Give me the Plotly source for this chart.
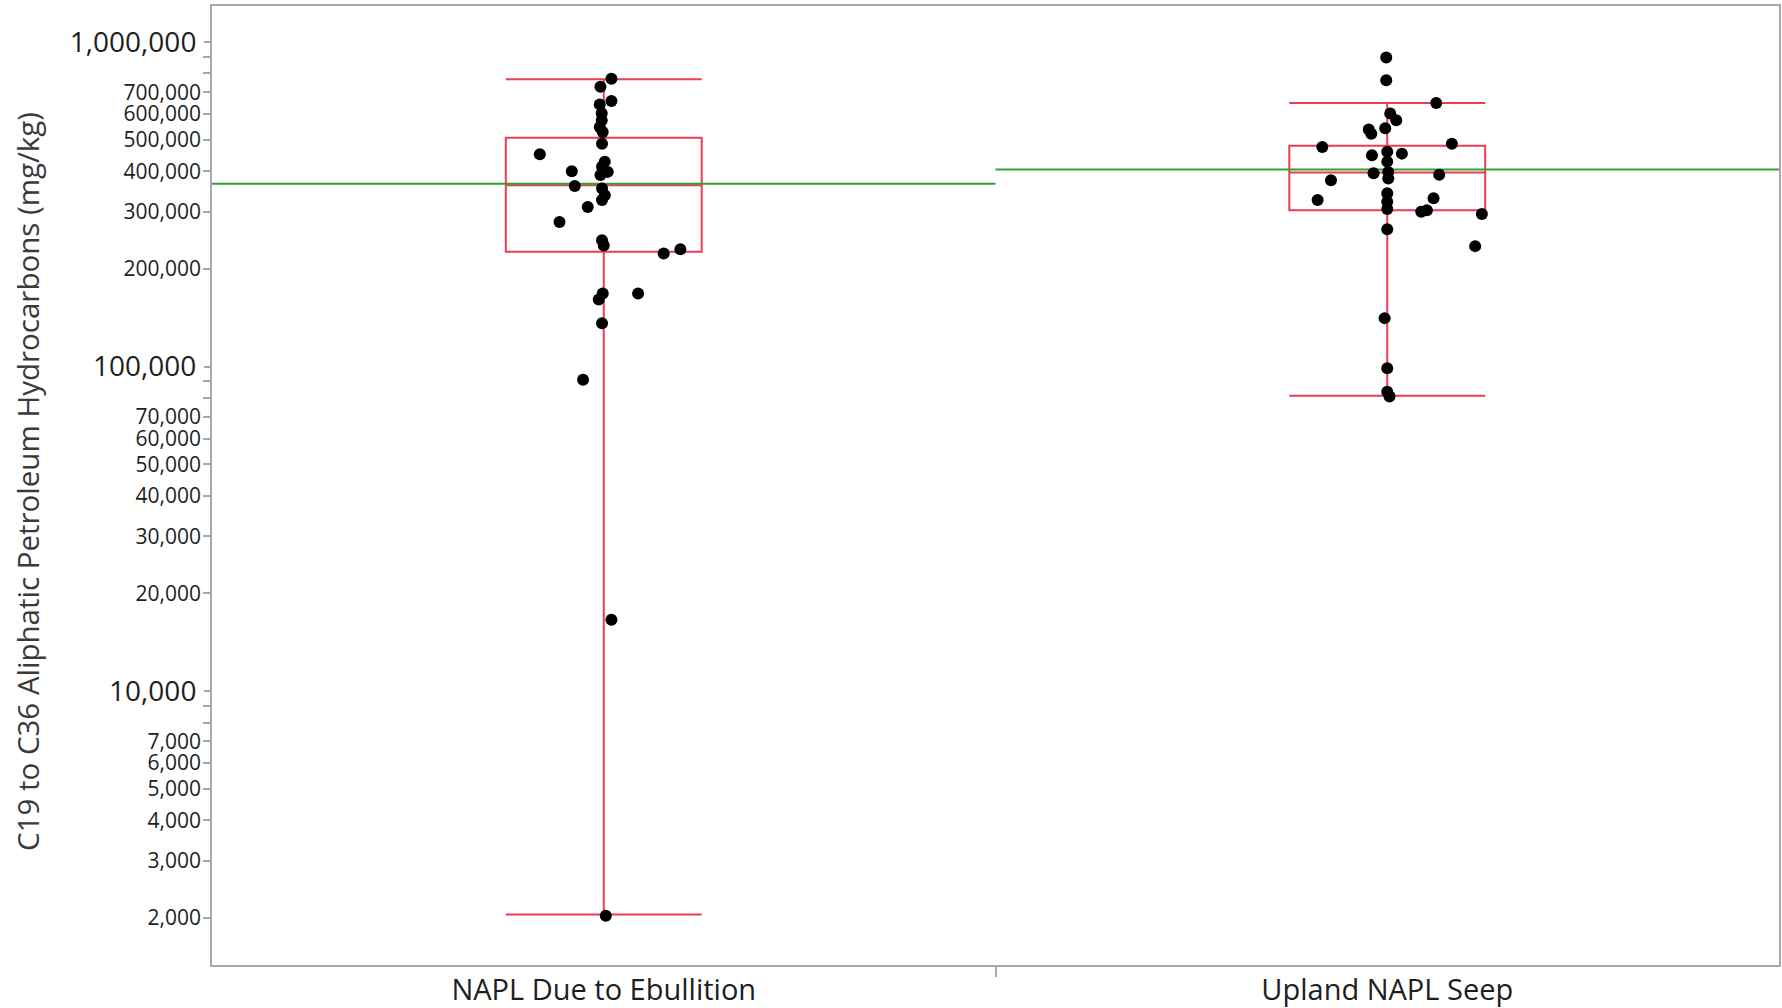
import plotly.graph_objects as go

# ---------------- data ----------------
categories = ["NAPL Due to Ebullition", "Upland NAPL Seep"]

ebullition_values = [771000, 728000, 658000, 642000, 603000, 574000, 547000, 528000,
                     486000, 451000, 428000, 413000, 398000, 389000, 400000, 360000,
                     354000, 337000, 326000, 310000, 279000, 245000, 236000, 223000,
                     230000, 168000, 161000, 168000, 136000, 91000, 16600, 2030]
ebullition_jitter = [0.0098, -0.0042, 0.0098, -0.0051, -0.0026, -0.0026, -0.0051, -0.0013,
                     -0.0022, -0.0816, 0.0013, -0.0022, 0.0051, -0.0042, -0.0408, -0.0370,
                     -0.0022, 0.0013, -0.0022, -0.0204, -0.0565, -0.0022, 0.0, 0.0765,
                     0.0978, -0.0013, -0.0064, 0.0438, -0.0022, -0.0264, 0.0098, 0.0026]

seep_values = [896000, 762000, 649000, 602000, 574000, 542000, 538000, 522000,
               475000, 486000, 459000, 453000, 448000, 428000, 398000, 394000,
               390000, 380000, 375000, 342000, 330000, 326000, 322000, 306000,
               303000, 300000, 295000, 265000, 235000, 141000, 98800, 83700, 80900]
seep_jitter = [-0.0013, -0.0013, 0.0625, 0.0038, 0.0115, -0.0026, -0.0236, -0.0204,
               -0.0829, 0.0825, 0.0, 0.0187, -0.0195, 0.0, 0.0013, -0.0175,
               0.0663, 0.0013, -0.0718, 0.0, 0.0591, -0.0889, 0.0, 0.0,
               0.0506, 0.0434, 0.1208, 0.0, 0.1122, -0.0034, 0.0, 0.0, 0.0029]

box_q1 = [226000, 303000]
box_median = [362000, 396000]
box_q3 = [507000, 479000]
box_lower = [2050, 81300]
box_upper = [768000, 649000]
group_means = [366000, 405000]

major_ticks = [10000, 100000, 1000000]
labeled_minor_ticks = [2000, 3000, 4000, 5000, 6000, 7000,
                       20000, 30000, 40000, 50000, 60000, 70000,
                       200000, 300000, 400000, 500000, 600000, 700000]
unlabeled_ticks = [8000, 9000, 80000, 90000, 800000, 900000]

y_title = "C19 to C36 Aliphatic Petroleum Hydrocarbons (mg/kg)"

# ---------------- styling ----------------
RED = "#ea3d55"
GREEN = "#33a02c"
AXIS = "#a8a8a8"
FONT = "Open Sans"
TXT = "#1e1e1e"

M_L, M_R, M_T, M_B = 212, 3, 6, 43
W, H = 1782, 1008
PLOT_W = W - M_L - M_R
PLOT_H = H - M_T - M_B
Y_RANGE = [3.156, 6.111]

fig = go.Figure()

# mean lines
for i, m in enumerate(group_means):
    fig.add_trace(go.Scatter(x=[i - 0.5, i + 0.5], y=[m, m], mode="lines",
                             line=dict(color=GREEN, width=2), hoverinfo="skip",
                             showlegend=False))

# boxes
fig.add_trace(go.Box(x=list(range(len(categories))), q1=box_q1, median=box_median,
                     q3=box_q3, lowerfence=box_lower, upperfence=box_upper,
                     width=0.25, whiskerwidth=1, boxpoints=False,
                     line=dict(color=RED, width=2), fillcolor="rgba(0,0,0,0)",
                     showlegend=False))

# points
px_x = [0 + j for j in ebullition_jitter] + [1 + j for j in seep_jitter]
px_y = ebullition_values + seep_values
fig.add_trace(go.Scatter(x=px_x, y=px_y, mode="markers",
                         marker=dict(color="black", size=12, line=dict(width=0)),
                         showlegend=False))

# invisible trace so the overlaid axis (major labels) is drawn
fig.add_trace(go.Scatter(x=[0], y=[major_ticks[0]], yaxis="y2", mode="markers",
                         marker=dict(opacity=0), hoverinfo="skip", showlegend=False))

# y ticks
minor_vals = labeled_minor_ticks + unlabeled_ticks
minor_text = [f"{v:,}" for v in labeled_minor_ticks] + ["" for _ in unlabeled_ticks]
major_text = [f"{v:,}" for v in major_ticks]

fig.update_layout(
    width=W, height=H,
    margin=dict(l=M_L, r=M_R, t=M_T, b=M_B, autoexpand=False),
    paper_bgcolor="white", plot_bgcolor="white",
    font=dict(family=FONT, color=TXT),
    showlegend=False,
    xaxis=dict(range=[-0.5, 1.5], tickmode="array", tickvals=[0, 1], ticktext=categories,
               ticks="", showgrid=False, zeroline=False, showline=True, mirror=True,
               automargin=False,
               linecolor=AXIS, linewidth=1.5, tickfont=dict(size=29, family=FONT, color=TXT),
               ticklabelstandoff=-2,
               minor=dict(tickmode="array", tickvals=[0.5], ticks="outside", ticklen=10,
                          tickcolor=AXIS, tickwidth=1.5, showgrid=False)),
    yaxis=dict(type="log", range=Y_RANGE, tickmode="array", tickvals=minor_vals,
               ticktext=minor_text, ticks="outside", ticklen=7, tickcolor=AXIS, tickwidth=1.5,
               ticklabelstandoff=-2, automargin=False,
               showgrid=False, zeroline=False, showline=True, mirror=True,
               linecolor=AXIS, linewidth=1.5, tickfont=dict(size=21, family=FONT, color=TXT)),
    yaxis2=dict(type="log", range=Y_RANGE, overlaying="y", side="left", anchor="x",
                tickmode="array", tickvals=major_ticks, ticktext=major_text,
                ticks="outside", ticklen=7, tickcolor=AXIS, tickwidth=1.5, automargin=False,
                ticklabelstandoff=2, showgrid=False, zeroline=False, showline=False,
                tickfont=dict(size=28, family=FONT, color=TXT)),
    annotations=[dict(text=y_title, xref="paper", yref="paper", x=(28 - M_L) / PLOT_W,
                      y=(H - M_B - 482) / PLOT_H,
                      xanchor="center", yanchor="middle", textangle=-90, showarrow=False,
                      font=dict(size=29.5, family=FONT, color="#3a3a3a"))],
)

fig.write_html("out.html")
